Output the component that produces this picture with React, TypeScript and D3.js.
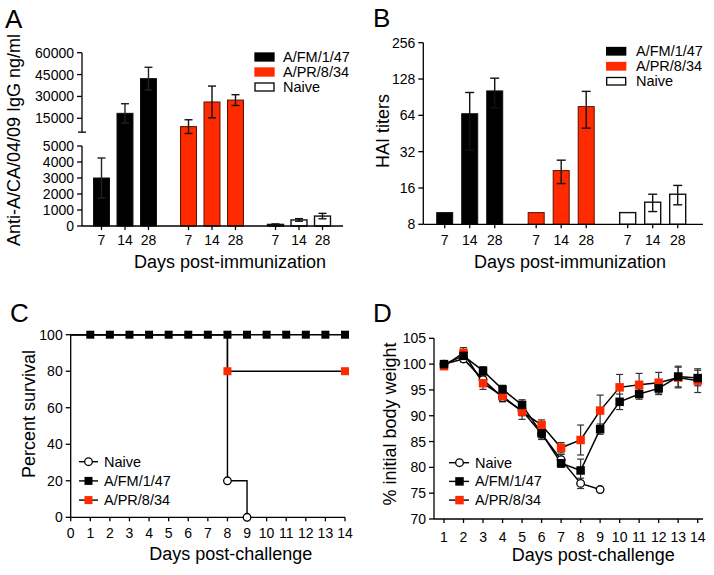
import React from "react";
import * as d3 from "d3";

const FONT = "'Liberation Sans', Arial, Helvetica, sans-serif";
const RED = "#ff2a00";
const RED_EDGE = "#5a1200";

// ---------- Panels A & B ----------
const groups = ["A/FM/1/47", "A/PR/8/34", "Naive"];
const days = ["7", "14", "28"];

const iggFM = [3000, 18400, 42200];
const iggFMErr = [1250, 6600, 7800];
const iggPR = [9300, 26200, 27500];
const iggPRErr = [4700, 10900, 3700];
const iggNaive = [100, 380, 620];
const iggNaiveErr = [30, 80, 170];
const iggUpperTicks = [15000, 30000, 45000, 60000];
const iggLowerTicks = [0, 1000, 2000, 3000, 4000, 5000];

const haiFM = [10, 66, 102];
const haiFMErr = [0, 33, 28];
const haiPR = [10, 22.3, 75.6];
const haiPRErr = [0, 4.9, 25.5];
const haiNaive = [10, 12.2, 14.2];
const haiNaiveErr = [0, 2, 2.6];
const haiTicks = [8, 16, 32, 64, 128, 256];

// ---------- Panel C ----------
const survTicksX = [0, 1, 2, 3, 4, 5, 6, 7, 8, 9, 10, 11, 12, 13, 14];
const survTicksY = [0, 20, 40, 60, 80, 100];
const survFMTime = [0, 1, 2, 3, 4, 5, 6, 7, 8, 9, 10, 11, 12, 13, 14];
const survFM = [100, 100, 100, 100, 100, 100, 100, 100, 100, 100, 100, 100, 100, 100, 100];
const survPRTime = [0, 8, 14];
const survPR = [100, 80, 80];
const survNaiveTime = [0, 8, 9];
const survNaive = [100, 20, 0];

// ---------- Panel D ----------
const wDays = [1, 2, 3, 4, 5, 6, 7, 8, 9, 10, 11, 12, 13, 14];
const wTicksY = [70, 75, 80, 85, 90, 95, 100, 105];
const wNaive = [100, 101, 97, 93.5, 91, 86.5, 81.5, 76.9, 75.7];
const wNaiveErr = [0.5, 0.6, 0.8, 0.8, 1, 1, 1, 1, 0];
const wFM = [100, 101.6, 98.7, 95.1, 92.1, 86.6, 80.8, 79.4, 87.4, 92.7, 94.2, 95.3, 97.6, 97.3];
const wFMErr = [0.5, 1, 0.8, 0.8, 1, 1.2, 0.8, 2.2, 1, 1.5, 1, 1.2, 2, 1.5];
const wPR = [99.6, 102.2, 96.3, 93.8, 90.8, 88.2, 83.8, 85.3, 91, 95.5, 96, 96.4, 97.4, 96.8];
const wPRErr = [0.5, 1, 1.2, 1, 1.5, 1, 1, 2.9, 3, 2.5, 2.2, 2, 2, 2.3];

const seriesStyle = [
  { fill: "#000", stroke: "#111" },
  { fill: RED, stroke: RED_EDGE },
  { fill: "#fff", stroke: "#111" },
];

function ErrBar({ x, y0, y1, cap, color = "#111", w = 1.4 }: any) {
  return (
    <g stroke={color} strokeWidth={w}>
      <line x1={x} x2={x} y1={y0} y2={y1} />
      <line x1={x - cap} x2={x + cap} y1={y0} y2={y0} />
      <line x1={x - cap} x2={x + cap} y1={y1} y2={y1} />
    </g>
  );
}

function PanelA() {
  const yLow = d3.scaleLinear().domain([0, 5000]).range([226, 146]);
  const yUp = d3.scaleLinear().domain([15000, 60000]).range([118.3, 52.7]);
  const seg = (mean: number) => (mean > 5000 ? yUp : yLow);
  const xAxisL = 82, xAxisR = 343;
  const outer = d3.scaleBand().domain(groups).range([89.75, 334.25]).paddingInner(0.19).paddingOuter(0);
  const inner = d3.scaleBand().domain(days).range([0, outer.bandwidth()]).paddingInner(0.32).paddingOuter(0.16);
  const data = [
    [iggFM, iggFMErr],
    [iggPR, iggPRErr],
    [iggNaive, iggNaiveErr],
  ];
  const upBottom = yUp(5500);
  return (
    <g fontFamily={FONT} fill="#000">
      <text x={5} y={28} fontSize={26}>A</text>
      {/* bars */}
      {data.map(([vals, errs], gi) =>
        vals.map((v, di) => {
          const x0 = (outer(groups[gi]) as number) + (inner(days[di]) as number);
          const bw = inner.bandwidth();
          const s = seg(v);
          const top = s(v);
          const cx = x0 + bw / 2;
          return (
            <g key={`${gi}-${di}`}>
              <rect x={x0} y={top} width={bw} height={yLow(0) - top} fill={seriesStyle[gi].fill} stroke={seriesStyle[gi].stroke} strokeWidth={gi === 2 ? 1.4 : 1} />
              <ErrBar x={cx} y0={s(v + errs[di])} y1={s(Math.max(0, v - errs[di]))} cap={4} color={gi === 0 ? "#222" : "#111"} />
            </g>
          );
        })
      )}
      {/* y axis upper segment */}
      <g stroke="#000" strokeWidth={1.3}>
        <line x1={xAxisL} x2={xAxisL} y1={yUp(60000)} y2={upBottom} />
        <line x1={xAxisL - 4} x2={xAxisL + 4} y1={upBottom} y2={upBottom} />
        {iggUpperTicks.map((t) => (
          <line key={t} x1={xAxisL - 5} x2={xAxisL} y1={yUp(t)} y2={yUp(t)} />
        ))}
        <line x1={xAxisL} x2={xAxisL} y1={yLow(5000)} y2={yLow(0)} />
        {iggLowerTicks.map((t) => (
          <line key={t} x1={xAxisL - 5} x2={xAxisL} y1={yLow(t)} y2={yLow(t)} />
        ))}
        <line x1={xAxisL} x2={xAxisR} y1={yLow(0)} y2={yLow(0)} />
        {groups.map((g) =>
          days.map((d) => {
            const cx = (outer(g) as number) + (inner(d) as number) + inner.bandwidth() / 2;
            return <line key={g + d} x1={cx} x2={cx} y1={yLow(0)} y2={yLow(0) + 4} />;
          })
        )}
      </g>
      <g fontSize={14} textAnchor="end">
        {iggUpperTicks.map((t) => (
          <text key={t} x={xAxisL - 8} y={yUp(t)} dy="0.36em">{t}</text>
        ))}
        {iggLowerTicks.map((t) => (
          <text key={t} x={xAxisL - 8} y={yLow(t)} dy="0.36em">{t}</text>
        ))}
      </g>
      <g fontSize={14} textAnchor="middle">
        {groups.map((g) =>
          days.map((d) => {
            const cx = (outer(g) as number) + (inner(d) as number) + inner.bandwidth() / 2;
            return <text key={g + d} x={cx} y={245}>{d}</text>;
          })
        )}
      </g>
      <text x={230} y={268} fontSize={18} textAnchor="middle">Days post-immunization</text>
      <text transform="translate(20,140) rotate(-90)" fontSize={18} textAnchor="middle">Anti-A/CA/04/09 IgG ng/ml</text>
      {/* legend */}
      {groups.map((g, i) => (
        <g key={g}>
          <rect x={255} y={53 + i * 15} width={19} height={8} fill={seriesStyle[i].fill} stroke={i === 1 ? RED : "#000"} strokeWidth={1.3} />
          <text x={283} y={62 + i * 15} fontSize={14.5}>{g}</text>
        </g>
      ))}
    </g>
  );
}

function PanelB() {
  const y = d3.scaleLog().base(2).domain([8, 256]).range([224.3, 42.7]);
  const xAxisL = 423.3, xAxisR = 703;
  const outer = d3.scaleBand().domain(groups).range([432.2, 690.2]).paddingInner(0.18).paddingOuter(0);
  const inner = d3.scaleBand().domain(days).range([0, outer.bandwidth()]).paddingInner(0.36).paddingOuter(0.18);
  const data = [
    [haiFM, haiFMErr],
    [haiPR, haiPRErr],
    [haiNaive, haiNaiveErr],
  ];
  return (
    <g fontFamily={FONT} fill="#000">
      <text x={373} y={27} fontSize={26}>B</text>
      {data.map(([vals, errs], gi) =>
        vals.map((v, di) => {
          const x0 = (outer(groups[gi]) as number) + (inner(days[di]) as number);
          const bw = inner.bandwidth();
          const top = y(v);
          const cx = x0 + bw / 2;
          return (
            <g key={`${gi}-${di}`}>
              <rect x={x0} y={top} width={bw} height={y(8) - top} fill={seriesStyle[gi].fill} stroke={seriesStyle[gi].stroke} strokeWidth={gi === 2 ? 1.4 : 1} />
              {errs[di] > 0 && <ErrBar x={cx} y0={y(v + errs[di])} y1={y(v - errs[di])} cap={4.5} />}
            </g>
          );
        })
      )}
      <g stroke="#000" strokeWidth={1.3}>
        <line x1={xAxisL} x2={xAxisL} y1={y(256)} y2={y(8)} />
        {haiTicks.map((t) => (
          <line key={t} x1={xAxisL - 5} x2={xAxisL} y1={y(t)} y2={y(t)} />
        ))}
        <line x1={xAxisL} x2={xAxisR} y1={y(8)} y2={y(8)} />
        {groups.map((g) =>
          days.map((d) => {
            const cx = (outer(g) as number) + (inner(d) as number) + inner.bandwidth() / 2;
            return <line key={g + d} x1={cx} x2={cx} y1={y(8)} y2={y(8) + 4} />;
          })
        )}
      </g>
      <g fontSize={14} textAnchor="end">
        {haiTicks.map((t) => (
          <text key={t} x={xAxisL - 8} y={y(t)} dy="0.36em">{t}</text>
        ))}
      </g>
      <g fontSize={14} textAnchor="middle">
        {groups.map((g) =>
          days.map((d) => {
            const cx = (outer(g) as number) + (inner(d) as number) + inner.bandwidth() / 2;
            return <text key={g + d} x={cx} y={245}>{d}</text>;
          })
        )}
      </g>
      <text x={570} y={268} fontSize={18} textAnchor="middle">Days post-immunization</text>
      <text transform="translate(389,131) rotate(-90)" fontSize={18} textAnchor="middle">HAI titers</text>
      {groups.map((g, i) => (
        <g key={g}>
          <rect x={606.7} y={47.5 + i * 15} width={19} height={7.5} fill={seriesStyle[i].fill} stroke={i === 1 ? RED : "#000"} strokeWidth={1.3} />
          <text x={636} y={56 + i * 15} fontSize={14.5}>{g}</text>
        </g>
      ))}
    </g>
  );
}

function Square({ x, y, s, fill }: any) {
  return <rect x={x - s / 2} y={y - s / 2} width={s} height={s} fill={fill} />;
}
function Circle({ x, y, r }: any) {
  return <circle cx={x} cy={y} r={r} fill="#fff" stroke="#000" strokeWidth={1.3} />;
}

function PanelC() {
  const x = d3.scaleLinear().domain([0, 14]).range([70.7, 345]);
  const y = d3.scaleLinear().domain([0, 100]).range([517.3, 334.7]);
  const step = d3
    .line<[number, number]>()
    .x((d) => x(d[0]))
    .y((d) => y(d[1]))
    .curve(d3.curveStepAfter);
  const zip = (t: number[], v: number[]) => t.map((ti, i) => [ti, v[i]] as [number, number]);
  const legend = ["Naive", "A/FM/1/47", "A/PR/8/34"];
  return (
    <g fontFamily={FONT} fill="#000">
      <text x={10} y={322} fontSize={26}>C</text>
      <g stroke="#000" strokeWidth={1.3}>
        <line x1={x(0)} x2={x(0)} y1={y(100)} y2={y(0)} />
        {survTicksY.map((t) => (
          <line key={t} x1={x(0) - 5} x2={x(0)} y1={y(t)} y2={y(t)} />
        ))}
        <line x1={x(0)} x2={x(14)} y1={y(0)} y2={y(0)} />
        {survTicksX.map((t) => (
          <line key={t} x1={x(t)} x2={x(t)} y1={y(0)} y2={y(0) + 4} />
        ))}
      </g>
      <g fill="none" stroke="#000" strokeWidth={1.4}>
        <path d={step(zip(survNaiveTime, survNaive)) as string} />
        <path d={step(zip(survPRTime, survPR)) as string} />
        <path d={step(zip(survFMTime, survFM)) as string} />
      </g>
      {survFMTime.map((t, i) => (t > 0 ? <Square key={"f" + t} x={x(t)} y={y(survFM[i])} s={8} fill="#000" /> : null))}
      {survPRTime.map((t, i) => (t > 0 ? <Square key={"p" + t} x={x(t)} y={y(survPR[i])} s={8} fill={RED} /> : null))}
      {survNaiveTime.map((t, i) => (t > 0 ? <Circle key={"n" + t} x={x(t)} y={y(survNaive[i])} r={3.8} /> : null))}
      <g fontSize={14} textAnchor="end">
        {survTicksY.map((t) => (
          <text key={t} x={x(0) - 8} y={y(t)} dy="0.36em">{t}</text>
        ))}
      </g>
      <g fontSize={14} textAnchor="middle">
        {survTicksX.map((t) => (
          <text key={t} x={x(t)} y={538}>{t}</text>
        ))}
      </g>
      <text x={230.7} y={560} fontSize={18} textAnchor="middle">Days post-challenge</text>
      <text transform="translate(35,414) rotate(-90)" fontSize={18} textAnchor="middle">Percent survival</text>
      {legend.map((l, i) => {
        const cy = 461.7 + i * 19.2;
        return (
          <g key={l}>
            <line x1={79} x2={98} y1={cy} y2={cy} stroke="#000" strokeWidth={1.4} />
            {i === 0 ? <Circle x={88.5} y={cy} r={3.8} /> : <Square x={88.5} y={cy} s={8} fill={i === 1 ? "#000" : RED} />}
            <text x={104} y={cy + 5} fontSize={14.5}>{l}</text>
          </g>
        );
      })}
    </g>
  );
}

function PanelD() {
  const x = d3.scaleLinear().domain([1, 14]).range([444, 697.7]);
  const y = d3.scaleLinear().domain([70, 105]).range([519, 338.3]);
  const xAxisL = 434, xAxisR = 703;
  const line = d3
    .line<number>()
    .x((_, i) => x(wDays[i]))
    .y((d) => y(d));
  const legend = ["Naive", "A/FM/1/47", "A/PR/8/34"];
  const errs = (vals: number[], e: number[], key: string) =>
    vals.map((v, i) =>
      e[i] > 0 ? <ErrBar key={key + i} x={x(wDays[i])} y0={y(v + e[i])} y1={y(v - e[i])} cap={3.5} color="#333" w={1.2} /> : null
    );
  return (
    <g fontFamily={FONT} fill="#000">
      <text x={373} y={322} fontSize={26}>D</text>
      <g stroke="#000" strokeWidth={1.3}>
        <line x1={xAxisL} x2={xAxisL} y1={y(105)} y2={y(70)} />
        {wTicksY.map((t) => (
          <line key={t} x1={xAxisL - 5} x2={xAxisL} y1={y(t)} y2={y(t)} />
        ))}
        <line x1={xAxisL} x2={xAxisR} y1={y(70)} y2={y(70)} />
        {wDays.map((t) => (
          <line key={t} x1={x(t)} x2={x(t)} y1={y(70)} y2={y(70) + 4} />
        ))}
      </g>
      {errs(wNaive, wNaiveErr, "en")}
      {errs(wPR, wPRErr, "ep")}
      {errs(wFM, wFMErr, "ef")}
      <g fill="none" stroke="#000" strokeWidth={1.5}>
        <path d={line(wNaive) as string} />
        <path d={line(wPR) as string} />
        <path d={line(wFM) as string} />
      </g>
      {wNaive.map((v, i) => (
        <Circle key={"n" + i} x={x(wDays[i])} y={y(v)} r={3.8} />
      ))}
      {wPR.map((v, i) => (
        <Square key={"p" + i} x={x(wDays[i])} y={y(v)} s={8.5} fill={RED} />
      ))}
      {wFM.map((v, i) => (
        <Square key={"f" + i} x={x(wDays[i])} y={y(v)} s={8.5} fill="#000" />
      ))}
      <g fontSize={14} textAnchor="end">
        {wTicksY.map((t) => (
          <text key={t} x={xAxisL - 8} y={y(t)} dy="0.36em">{t}</text>
        ))}
      </g>
      <g fontSize={14} textAnchor="middle">
        {wDays.map((t) => (
          <text key={t} x={x(t)} y={542}>{t}</text>
        ))}
      </g>
      <text x={593.3} y={561} fontSize={18} textAnchor="middle">Days post-challenge</text>
      <text transform="translate(396,424) rotate(-90)" fontSize={18} textAnchor="middle">% initial body weight</text>
      {legend.map((l, i) => {
        const cy = 462.7 + i * 18.7;
        return (
          <g key={l}>
            <line x1={449} x2={469} y1={cy} y2={cy} stroke="#000" strokeWidth={1.4} />
            {i === 0 ? <Circle x={459.5} y={cy} r={3.8} /> : <Square x={459.5} y={cy} s={8.5} fill={i === 1 ? "#000" : RED} />}
            <text x={475} y={cy + 5} fontSize={14.5}>{l}</text>
          </g>
        );
      })}
    </g>
  );
}

export default function App() {
  return (
    <svg
      width={714}
      height={575}
      viewBox="0 0 714 575"
      style={{ position: "absolute", left: 0, top: 0, background: "#fff" }}
    >
      <rect width={714} height={575} fill="#fff" />
      <PanelA />
      <PanelB />
      <PanelC />
      <PanelD />
    </svg>
  );
}
